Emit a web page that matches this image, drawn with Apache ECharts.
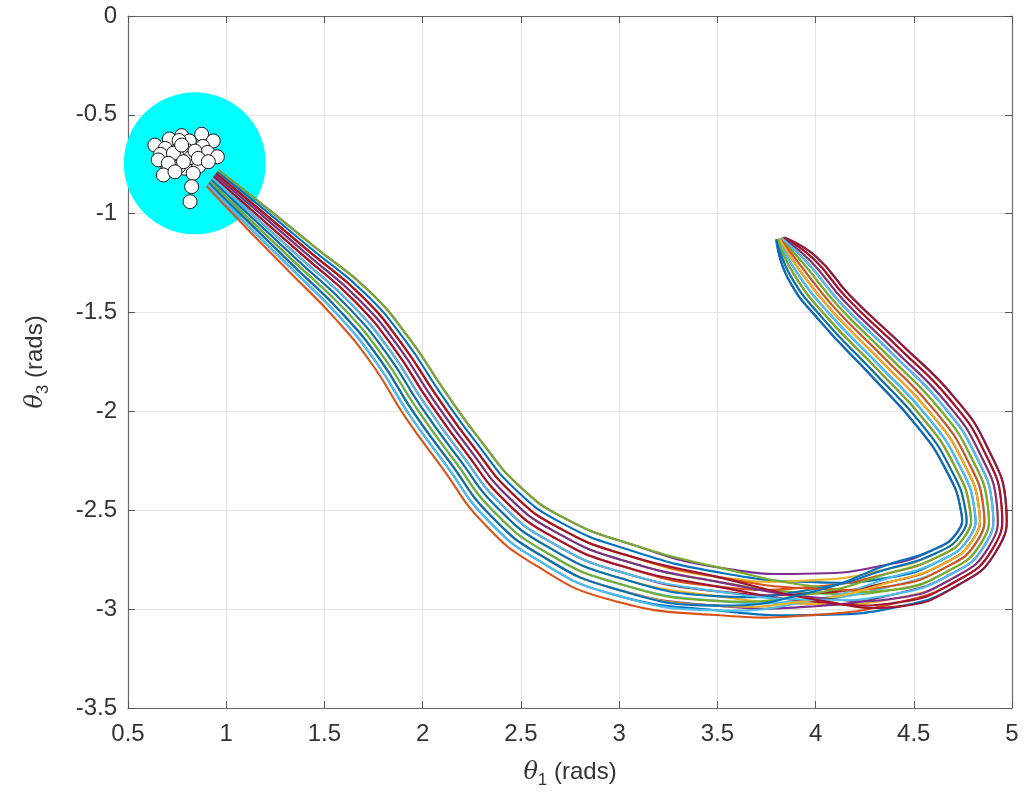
<!DOCTYPE html>
<html>
<head>
<meta charset="utf-8">
<script src="https://cdn.jsdelivr.net/npm/echarts@6/dist/echarts.min.js"></script>
<style>
html,body{margin:0;padding:0;background:#fff;}
#chart{width:1027px;height:802px;}
</style>
</head>
<body>
<div id="chart"></div>
<script>
// ---- tick labels ----
const xTickLabels = ['0.5','1','1.5','2','2.5','3','3.5','4','4.5','5'];
const yTickLabels = ['0','-0.5','-1','-1.5','-2','-2.5','-3','-3.5'];

// ---- target region (cyan disk) ----
const targetCenter = [[0.84, -0.745]];

// ---- final states (white circles) ----
const finalStates = [
  [0.637,-0.653],[0.710,-0.622],[0.773,-0.605],[0.875,-0.598],[0.934,-0.632],
  [0.812,-0.632],[0.690,-0.670],[0.760,-0.630],[0.880,-0.660],[0.800,-0.680],
  [0.750,-0.710],[0.700,-0.780],[0.790,-0.770],[0.860,-0.760],
  [0.665,-0.700],[0.725,-0.735],[0.820,-0.715],[0.905,-0.690],[0.760,-0.760],
  [0.654,-0.728],[0.731,-0.694],[0.841,-0.683],[0.858,-0.720],[0.955,-0.712],
  [0.782,-0.737],[0.705,-0.745],[0.773,-0.653],[0.909,-0.737],
  [0.680,-0.804],[0.739,-0.788],[0.832,-0.796],[0.824,-0.863],[0.816,-0.939]
];

// ---- trajectories (theta1, theta3) ----
const traj01 = [[3.84,-1.12],[4.002,-1.216],[4.175,-1.414],[4.439,-1.663],[4.704,-1.926],[4.877,-2.186],[4.97,-2.478],[4.918,-2.71],[4.726,-2.878],[4.431,-2.986],[4.00,-3.029],[3.492,-3.006],[2.964,-2.924],[2.591,-2.755],[2.325,-2.543],[2.122,-2.276],[1.93,-2.013],[1.766,-1.755],[1.574,-1.518],[1.334,-1.28],[1.092,-1.042],[0.906,-0.852]];
const traj02 = [[3.836,-1.121],[3.988,-1.227],[4.16,-1.427],[4.423,-1.678],[4.685,-1.941],[4.856,-2.197],[4.947,-2.48],[4.898,-2.70],[4.713,-2.86],[4.425,-2.965],[4.00,-3.029],[3.49,-3.03],[2.955,-2.953],[2.576,-2.779],[2.306,-2.561],[2.103,-2.29],[1.91,-2.026],[1.748,-1.769],[1.557,-1.533],[1.321,-1.293],[1.083,-1.052],[0.90,-0.86]];
const traj03 = [[3.832,-1.122],[3.973,-1.238],[4.145,-1.44],[4.407,-1.694],[4.666,-1.956],[4.834,-2.208],[4.924,-2.483],[4.879,-2.69],[4.70,-2.843],[4.419,-2.944],[4.00,-2.974],[3.498,-2.934],[2.991,-2.839],[2.635,-2.684],[2.381,-2.488],[2.181,-2.234],[1.99,-1.973],[1.822,-1.714],[1.623,-1.475],[1.372,-1.243],[1.121,-1.01],[0.924,-0.828]];
const traj04 = [[3.828,-1.123],[3.959,-1.248],[4.13,-1.454],[4.392,-1.709],[4.648,-1.97],[4.813,-2.218],[4.901,-2.485],[4.859,-2.68],[4.686,-2.825],[4.412,-2.922],[4.00,-2.985],[3.494,-2.982],[2.973,-2.896],[2.606,-2.731],[2.344,-2.525],[2.142,-2.262],[1.95,-2.00],[1.785,-1.741],[1.59,-1.504],[1.347,-1.268],[1.102,-1.031],[0.912,-0.844]];
const traj05 = [[3.824,-1.124],[3.944,-1.259],[4.115,-1.467],[4.376,-1.725],[4.629,-1.985],[4.791,-2.229],[4.878,-2.488],[4.84,-2.67],[4.673,-2.808],[4.406,-2.901],[4.00,-2.919],[3.504,-2.862],[3.018,-2.753],[2.68,-2.612],[2.438,-2.434],[2.239,-2.192],[2.05,-1.934],[1.877,-1.672],[1.673,-1.431],[1.411,-1.205],[1.149,-0.979],[0.942,-0.804]];
const traj06 = [[3.82,-1.125],[3.93,-1.27],[4.10,-1.48],[4.36,-1.74],[4.61,-2.00],[4.77,-2.24],[4.855,-2.49],[4.82,-2.66],[4.66,-2.79],[4.40,-2.88],[4.00,-2.952],[3.496,-2.958],[2.982,-2.867],[2.62,-2.708],[2.362,-2.506],[2.161,-2.248],[1.97,-1.986],[1.803,-1.728],[1.607,-1.489],[1.359,-1.255],[1.111,-1.021],[0.918,-0.836]];
const traj07 = [[3.816,-1.126],[3.916,-1.281],[4.085,-1.493],[4.344,-1.755],[4.591,-2.015],[4.749,-2.251],[4.832,-2.492],[4.80,-2.65],[4.647,-2.772],[4.394,-2.859],[4.00,-2.919],[3.50,-2.91],[3.00,-2.81],[2.65,-2.66],[2.40,-2.47],[2.20,-2.22],[2.01,-1.96],[1.84,-1.70],[1.64,-1.46],[1.385,-1.23],[1.13,-1.00],[0.93,-0.82]];
const traj08 = [[3.812,-1.127],[3.901,-1.292],[4.07,-1.506],[4.328,-1.771],[4.572,-2.03],[4.727,-2.262],[4.809,-2.495],[4.781,-2.64],[4.634,-2.755],[4.388,-2.838],[4.00,-2.864],[3.508,-2.814],[3.036,-2.696],[2.709,-2.565],[2.475,-2.397],[2.278,-2.164],[2.09,-1.907],[1.914,-1.645],[1.706,-1.402],[1.436,-1.18],[1.168,-0.958],[0.954,-0.788]];
const traj09 = [[3.808,-1.128],[3.887,-1.302],[4.055,-1.52],[4.313,-1.786],[4.554,-2.044],[4.706,-2.272],[4.786,-2.497],[4.761,-2.63],[4.62,-2.737],[4.381,-2.816],[4.00,-2.886],[3.502,-2.886],[3.009,-2.781],[2.665,-2.636],[2.419,-2.452],[2.219,-2.206],[2.03,-1.947],[1.858,-1.686],[1.657,-1.445],[1.398,-1.217],[1.139,-0.99],[0.936,-0.812]];
const traj10 = [[3.804,-1.129],[3.872,-1.313],[4.04,-1.533],[4.297,-1.802],[4.535,-2.059],[4.684,-2.283],[4.763,-2.50],[4.742,-2.62],[4.607,-2.72],[4.375,-2.795],[4.00,-2.853],[3.506,-2.838],[3.027,-2.724],[2.694,-2.589],[2.456,-2.415],[2.258,-2.178],[2.07,-1.92],[1.895,-1.659],[1.69,-1.416],[1.423,-1.192],[1.158,-0.969],[0.948,-0.796]];
const traj11 = [[3.80,-1.13],[3.858,-1.324],[4.025,-1.546],[4.281,-1.817],[4.516,-2.074],[4.663,-2.294],[4.74,-2.502],[4.722,-2.61],[4.594,-2.702],[4.369,-2.774],[4.00,-2.82],[3.51,-2.79],[3.045,-2.667],[2.724,-2.541],[2.494,-2.379],[2.297,-2.15],[2.11,-1.894],[1.932,-1.631],[1.723,-1.387],[1.449,-1.167],[1.177,-0.948],[0.96,-0.78]];
const traj12 = [[3.824,-1.124],[3.944,-1.259],[4.115,-1.467],[4.376,-1.725],[4.629,-1.985],[4.791,-2.229],[4.878,-2.488],[4.84,-2.67],[4.673,-2.808],[4.406,-2.901],[4.00,-2.886],[3.51,-2.79],[3.045,-2.667],[2.724,-2.541],[2.494,-2.379],[2.297,-2.15],[2.11,-1.894],[1.932,-1.631],[1.723,-1.387],[1.449,-1.167],[1.177,-0.948],[0.96,-0.78]];
const traj13 = [[3.812,-1.127],[3.901,-1.292],[4.07,-1.506],[4.328,-1.771],[4.572,-2.03],[4.727,-2.262],[4.809,-2.495],[4.781,-2.64],[4.634,-2.755],[4.388,-2.838],[4.00,-2.952],[3.492,-3.006],[2.964,-2.924],[2.591,-2.755],[2.325,-2.543],[2.122,-2.276],[1.93,-2.013],[1.766,-1.755],[1.574,-1.518],[1.334,-1.28],[1.092,-1.042],[0.906,-0.852]];
const traj14 = [[3.836,-1.121],[3.988,-1.227],[4.16,-1.427],[4.423,-1.678],[4.685,-1.941],[4.856,-2.197],[4.947,-2.48],[4.898,-2.70],[4.713,-2.86],[4.425,-2.965],[4.00,-2.963],[3.502,-2.886],[3.009,-2.781],[2.665,-2.636],[2.419,-2.452],[2.219,-2.206],[2.03,-1.947],[1.858,-1.686],[1.657,-1.445],[1.398,-1.217],[1.139,-0.99],[0.936,-0.812]];
const traj15 = [[3.804,-1.129],[3.872,-1.313],[4.04,-1.533],[4.297,-1.802],[4.535,-2.059],[4.684,-2.283],[4.763,-2.50],[4.742,-2.62],[4.607,-2.72],[4.375,-2.795],[4.00,-2.897],[3.498,-2.934],[2.991,-2.839],[2.635,-2.684],[2.381,-2.488],[2.181,-2.234],[1.99,-1.973],[1.822,-1.714],[1.623,-1.475],[1.372,-1.243],[1.121,-1.01],[0.924,-0.828]];
const traj16 = [[3.82,-1.125],[3.93,-1.27],[4.10,-1.48],[4.36,-1.74],[4.61,-2.00],[4.77,-2.24],[4.855,-2.49],[4.82,-2.66],[4.66,-2.79],[4.40,-2.88],[4.00,-2.897],[3.506,-2.838],[3.027,-2.724],[2.694,-2.589],[2.456,-2.415],[2.258,-2.178],[2.07,-1.92],[1.895,-1.659],[1.69,-1.416],[1.423,-1.192],[1.158,-0.969],[0.948,-0.796]];
const traj17 = [[3.816,-1.126],[3.916,-1.281],[4.085,-1.493],[4.344,-1.755],[4.591,-2.015],[4.749,-2.251],[4.832,-2.492],[4.80,-2.65],[4.647,-2.772],[4.394,-2.859],[4.00,-2.952],[3.494,-2.982],[2.973,-2.896],[2.606,-2.731],[2.344,-2.525],[2.142,-2.262],[1.95,-2.00],[1.785,-1.741],[1.59,-1.504],[1.347,-1.268],[1.102,-1.031],[0.912,-0.844]];
const traj18 = [[3.832,-1.122],[3.973,-1.238],[4.145,-1.44],[4.407,-1.694],[4.666,-1.956],[4.834,-2.208],[4.924,-2.483],[4.879,-2.69],[4.70,-2.843],[4.419,-2.944],[4.00,-2.941],[3.504,-2.862],[3.018,-2.753],[2.68,-2.612],[2.438,-2.434],[2.239,-2.192],[2.05,-1.934],[1.877,-1.672],[1.673,-1.431],[1.411,-1.205],[1.149,-0.979],[0.942,-0.804]];
const traj19 = [[3.808,-1.128],[3.887,-1.302],[4.055,-1.52],[4.313,-1.786],[4.554,-2.044],[4.706,-2.272],[4.786,-2.497],[4.761,-2.63],[4.62,-2.737],[4.381,-2.816],[4.00,-2.919],[3.496,-2.958],[2.982,-2.867],[2.62,-2.708],[2.362,-2.506],[2.161,-2.248],[1.97,-1.986],[1.803,-1.728],[1.607,-1.489],[1.359,-1.255],[1.111,-1.021],[0.918,-0.836]];
const traj20 = [[3.828,-1.123],[3.959,-1.248],[4.13,-1.454],[4.392,-1.709],[4.648,-1.97],[4.813,-2.218],[4.901,-2.485],[4.859,-2.68],[4.686,-2.825],[4.412,-2.922],[4.00,-2.952],[3.50,-2.91],[3.00,-2.81],[2.65,-2.66],[2.40,-2.47],[2.20,-2.22],[2.01,-1.96],[1.84,-1.70],[1.64,-1.46],[1.385,-1.23],[1.13,-1.00],[0.93,-0.82]];
const traj21 = [[3.84,-1.12],[4.002,-1.216],[4.175,-1.414],[4.439,-1.663],[4.704,-1.926],[4.877,-2.186],[4.97,-2.478],[4.918,-2.71],[4.726,-2.878],[4.431,-2.986],[4.00,-2.952],[3.506,-2.838],[3.027,-2.724],[2.694,-2.589],[2.456,-2.415],[2.258,-2.178],[2.07,-1.92],[1.895,-1.659],[1.69,-1.416],[1.423,-1.192],[1.158,-0.969],[0.948,-0.796]];
const traj22 = [[3.80,-1.13],[3.858,-1.324],[4.025,-1.546],[4.281,-1.817],[4.516,-2.074],[4.663,-2.294],[4.74,-2.502],[4.722,-2.61],[4.594,-2.702],[4.369,-2.774],[4.00,-2.908],[3.494,-2.982],[2.973,-2.896],[2.606,-2.731],[2.344,-2.525],[2.142,-2.262],[1.95,-2.00],[1.785,-1.741],[1.59,-1.504],[1.347,-1.268],[1.102,-1.031],[0.912,-0.844]];

const trajectories = [traj01,traj02,traj03,traj04,traj05,traj06,traj07,traj08,traj09,traj10,traj11,
                      traj12,traj13,traj14,traj15,traj16,traj17,traj18,traj19,traj20,traj21,traj22];
const lineColors = ['#0072BD','#D95319','#EDB120','#7E2F8E','#77AC30','#4DBEEE','#A2142F'];

// ---- chart ----
const chart = echarts.init(document.getElementById('chart'), null, {renderer:'canvas'});
const FONT = '"Liberation Sans", Arial, Helvetica, sans-serif';
const axisLineStyle = {color:'#6b6b6b', width:1.2};
const tickStyle = {show:true, inside:true, length:7, lineStyle:{color:'#555', width:1}};
const fmt = (labels) => (v) => { const s = String(+(+v).toFixed(2)); return labels.indexOf(s) >= 0 ? s : ''; };
const nameRich = {
  th:{fontStyle:'italic', fontSize:24, fontFamily:'"DejaVu Serif", serif', color:'#333'},
  sub:{fontSize:17, color:'#333', fontFamily:FONT, padding:[16,0,0,0]}
};

const series = [];
series.push({
  type:'scatter', data: targetCenter, symbol:'circle', symbolSize:142,
  itemStyle:{color:'#00FFFF', opacity:1}, silent:true, z:1
});
trajectories.forEach((t, i) => {
  const color = lineColors[i % lineColors.length];
  series.push({
    type:'custom', data:t, encode:{x:0, y:1}, z:2, silent:true,
    renderItem: (params, api) => {
      if (params.dataIndex !== 0) return null;
      const pts = t.map(p => api.coord(p));
      return {
        type:'polyline',
        shape:{points: pts, smooth: 0.5},
        style:{stroke: color, lineWidth: 2.1, fill: 'none'}
      };
    }
  });
});
series.push({
  type:'scatter', data: finalStates, symbol:'circle', symbolSize:14, z:5,
  itemStyle:{color:'#ffffff', opacity:1, borderColor:'#111', borderWidth:1}, silent:true
});

chart.setOption({
  animation:false,
  backgroundColor:'#ffffff',
  grid:{left:128, right:15, top:16, bottom:94, containLabel:false, outerBoundsMode:'none'},
  xAxis:[{
    type:'value', min:0.5, max:5, interval:0.5, position:'bottom',
    axisLine:{show:true, onZero:false, lineStyle:axisLineStyle},
    axisTick:tickStyle,
    axisLabel:{formatter: fmt(xTickLabels), color:'#333', fontSize:24, fontFamily:FONT, margin:14},
    splitLine:{show:true, lineStyle:{color:'#e3e3e3', width:1}},
    name:'{th|θ}{sub|1} (rads)', nameLocation:'middle', nameGap:48,
    nameTextStyle:{color:'#333', fontSize:24, fontFamily:FONT, rich:nameRich}
  },{
    type:'value', min:0.5, max:5, interval:0.5, position:'top',
    axisLine:{show:true, onZero:false, lineStyle:axisLineStyle},
    axisTick:tickStyle, axisLabel:{show:false}, splitLine:{show:false}
  }],
  yAxis:[{
    type:'value', min:-3.5, max:0, interval:0.5, position:'left',
    axisLine:{show:true, onZero:false, lineStyle:axisLineStyle},
    axisTick:tickStyle,
    axisLabel:{formatter: fmt(yTickLabels), color:'#333', fontSize:24, fontFamily:FONT, margin:11},
    splitLine:{show:true, lineStyle:{color:'#e3e3e3', width:1}},
    name:'{th|θ}{sub|3} (rads)', nameLocation:'middle', nameGap:76,
    nameTextStyle:{color:'#333', fontSize:24, fontFamily:FONT, rich:nameRich}
  },{
    type:'value', min:-3.5, max:0, interval:0.5, position:'right',
    axisLine:{show:true, onZero:false, lineStyle:axisLineStyle},
    axisTick:tickStyle, axisLabel:{show:false}, splitLine:{show:false}
  }],
  series: series
});
</script>
</body>
</html>
